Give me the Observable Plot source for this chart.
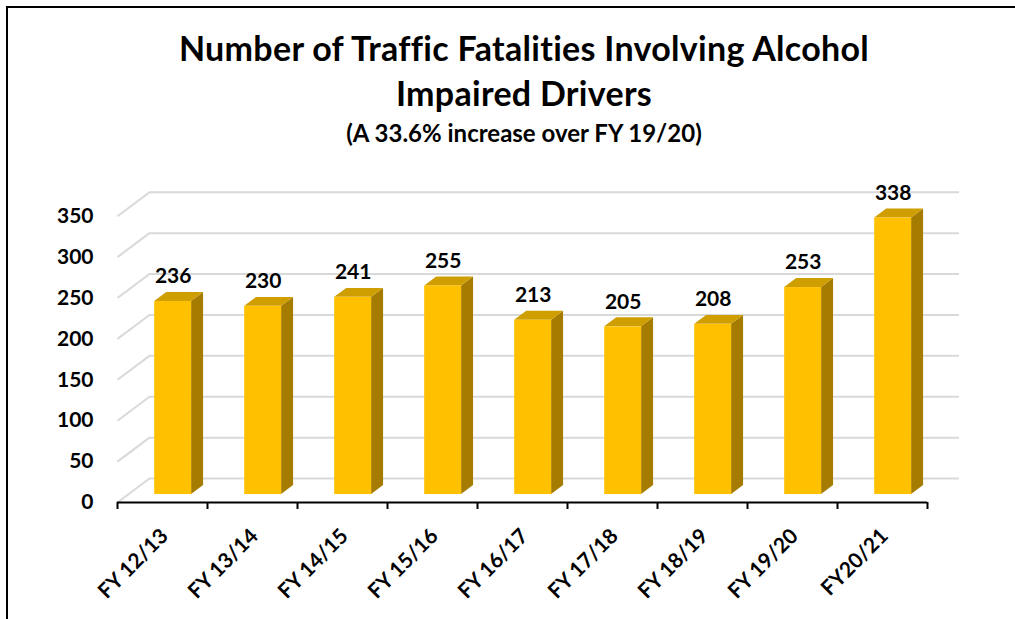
<!DOCTYPE html>
<html>
<head>
<meta charset="utf-8">
<script src="https://cdn.jsdelivr.net/npm/d3@7"></script>
<script src="https://cdn.jsdelivr.net/npm/@observablehq/plot@0.6"></script>
<style>
  html, body { margin: 0; padding: 0; background: #fff; }
  body { width: 1015px; height: 619px; position: relative; overflow: hidden; font-family: Lato, "Open Sans", sans-serif; color: #000; }
  #frame { position: absolute; left: 6px; top: 6px; width: 1020px; height: 640px; border-left: 2px solid #000; border-top: 2px solid #000; box-sizing: border-box; }
  .tl { position: absolute; left: 0; width: 1048px; text-align: center; font-weight: 700; white-space: nowrap; }
  #t1 { top: 27px; font-size: 34px; line-height: 41px; letter-spacing: 0.3px; }
  #t2 { top: 72px; font-size: 34px; line-height: 41px; letter-spacing: 0.3px; }
  #t3 { top: 118px; font-size: 24px; line-height: 29px; }
  #chart { position: absolute; left: 0; top: 160px; }
</style>
</head>
<body>
<div id="frame"></div>
<div class="tl" id="t1"></div>
<div class="tl" id="t2"></div>
<div class="tl" id="t3"></div>
<div id="chart"></div>
<script>
// ---- data ----
const titleLines = ["Number of Traffic Fatalities Involving Alcohol", "Impaired Drivers"];
const subtitle = "(A 33.6% increase over FY 19/20)";
const categories = ["FY 12/13", "FY 13/14", "FY 14/15", "FY 15/16", "FY 16/17", "FY 17/18", "FY 18/19", "FY 19/20", "FY20/21"];
const fatalities = [236, 230, 241, 255, 213, 205, 208, 253, 338];
const yTicks = [0, 50, 100, 150, 200, 250, 300, 350];

document.getElementById("t1").textContent = titleLines[0];
document.getElementById("t2").textContent = titleLines[1];
document.getElementById("t3").textContent = subtitle;

// ---- oblique 3D projection constants (in scale units) ----
const DEPTH_X = 0.355;   // floor depth, in category widths
const DEPTH_Y = 29.3;    // floor depth, in value units
const BAR_W = 0.41;      // front face width, in category widths
const BAR_Z0 = 1 / 3;    // front face position along depth
const BAR_D = 0.375;     // bar depth fraction
const FRONT = "#FFC000", TOP = "#CF9E00", SIDE = "#A67C00";
const GRID = "#D9D9D9";
const FONT = "Lato, 'Open Sans', sans-serif";

const bars = categories.map((c, i) => {
  const x1 = i + 0.5 - BAR_W / 2 + BAR_Z0 * DEPTH_X;
  const y1 = BAR_Z0 * DEPTH_Y;
  return { i, c, v: fatalities[i], x1, x2: x1 + BAR_W, y1, y2: y1 + fatalities[i] };
});
const bdx = BAR_D * DEPTH_X, bdy = BAR_D * DEPTH_Y;
const sides = bars.flatMap(b => [
  { i: b.i, x: b.x2, y1: b.y1, y2: b.y2 },
  { i: b.i, x: b.x2 + bdx, y1: b.y1 + bdy, y2: b.y2 + bdy }
]);
const tops = bars.flatMap(b => [
  { i: b.i, y: b.y2, x1: b.x1, x2: b.x2 },
  { i: b.i, y: b.y2 + bdy, x1: b.x1 + bdx, x2: b.x2 + bdx }
]);

const chart = Plot.plot({
  width: 1015,
  height: 459,
  marginLeft: 117,
  marginRight: 88,
  marginTop: 55.7,
  marginBottom: 117,
  style: { fontFamily: FONT, background: "transparent", overflow: "visible" },
  x: { type: "linear", domain: [0, categories.length], axis: null },
  y: { type: "linear", domain: [0, 350], axis: null },
  marks: [
    // back wall gridlines
    Plot.ruleY(yTicks, { y: d => d + DEPTH_Y, x1: () => DEPTH_X, x2: () => categories.length + DEPTH_X, stroke: GRID, strokeWidth: 2 }),
    // left wall gridlines
    Plot.link(yTicks, { x1: () => 0, y1: d => d, x2: () => DEPTH_X, y2: d => d + DEPTH_Y, stroke: GRID, strokeWidth: 2 }),
    // bar faces
    Plot.areaY(sides, { x: "x", y1: "y1", y2: "y2", z: "i", fill: SIDE }),
    Plot.areaX(tops, { y: "y", x1: "x1", x2: "x2", z: "i", fill: TOP }),
    Plot.rect(bars, { x1: "x1", x2: "x2", y1: "y1", y2: "y2", fill: FRONT }),
    // value labels
    Plot.text(bars, { x: d => (d.x1 + d.x2) / 2, y: "y2", text: d => String(d.v), dy: -25, fontSize: 21, fontWeight: "bold", fill: "#000" }),
    // x axis
    Plot.ruleY([0], { stroke: "#000", strokeWidth: 2 }),
    Plot.axisX(d3.range(0, categories.length + 1), { tickSize: 7, tickFormat: () => "", stroke: "#000", strokeWidth: 2 }),
    Plot.text(categories, { x: (d, i) => i + 0.5, y: () => 0, text: d => d, rotate: -45, textAnchor: "end", dx: 2, dy: 30, fontSize: 21, fontWeight: "bold", fill: "#000" }),
    // y tick labels
    Plot.text(yTicks, { x: () => 0, y: d => d, text: d => String(d), textAnchor: "end", dx: -24, fontSize: 21, fontWeight: "bold", fill: "#000" })
  ]
});
document.getElementById("chart").appendChild(chart);
</script>
</body>
</html>
